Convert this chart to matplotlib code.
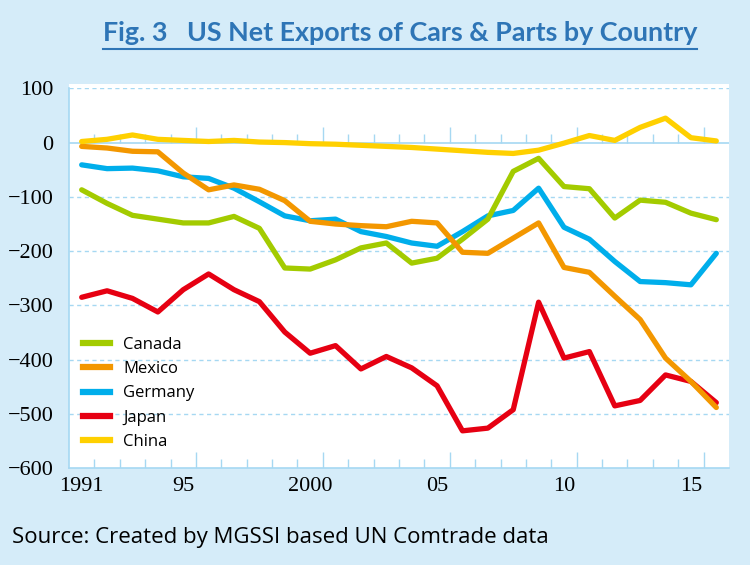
import matplotlib
matplotlib.use("Agg")
import matplotlib.pyplot as plt
from matplotlib.lines import Line2D
from matplotlib.patches import Rectangle
import numpy as np

years = list(range(1991, 2017))
canada = [-87, -112, -134, -141, -148, -148, -136, -158, -231, -233, -216, -194, -185,
          -222, -213, -178, -141, -53, -29, -81, -85, -139, -106, -110, -130, -142]
mexico = [-7, -10, -16, -17, -56, -87, -78, -86, -107, -145, -150, -153, -155,
          -145, -148, -202, -204, -176, -148, -230, -239, -283, -326, -397, -440, -488]
germany = [-41, -48, -47, -52, -63, -66, -84, -109, -135, -144, -141, -164, -173,
           -185, -191, -164, -135, -125, -84, -156, -178, -219, -256, -258, -262, -204]
japan = [-285, -273, -287, -312, -271, -242, -271, -293, -349, -388, -374, -417, -394,
         -415, -448, -531, -526, -492, -294, -397, -385, -485, -475, -428, -440, -479]
china = [2, 6, 14, 6, 4, 2, 4, 1, 0, -2, -3, -5, -7,
         -9, -12, -15, -18, -20, -14, -1, 13, 4, 28, 45, 9, 3]

series_names = ["Canada", "Mexico", "Germany", "Japan", "China"]
series_vals = [canada, mexico, germany, japan, china]
colors = ["#A3CB00", "#F39700", "#00AEEB", "#E60012", "#FFD000"]
zorders = [4, 5, 3, 2, 6]

xtick_labels = ["1991", "95", "2000", "05", "10", "15"]
xtick_years = [1991, 1995, 2000, 2005, 2010, 2015]
yticks = [100, 0, -100, -200, -300, -400, -500, -600]

title = "Fig. 3   US Net Exports of Cars & Parts by Country"
source = "Source: Created by MGSSI based UN Comtrade data"

BG = "#D5ECF9"
GRID = "#A6D8F2"

W, H = 750, 565
fig = plt.figure(figsize=(7.5, 5.65), dpi=100, facecolor=BG)

def fx(px):
    return px / W

def fy(py):
    return 1 - py / H

# white plot area
fig.add_artist(Rectangle((fx(69), fy(468)), fx(729) - fx(69), fy(84) - fy(468),
                         transform=fig.transFigure, facecolor="white", edgecolor="none", zorder=0))

ax = fig.add_axes([fx(69), fy(468.3), fx(729) - fx(69), fy(88.3) - fy(468.3)])
ax.set_facecolor("none")
ax.set_xlim(1990.5, 2016.5)
ax.set_ylim(-600, 100)

for y in [100, -100, -200, -300, -400, -500]:
    ax.axhline(y, color=GRID, lw=1.0, ls=(0, (3, 2.5)), zorder=1)
ax.axhline(0, color=GRID, lw=1.2, zorder=1)

# tick marks on zero line and bottom (category boundaries)
bounds = np.arange(1991.5, 2016.5, 1.0)
for b in bounds:
    major = abs((b - 1990.5) % 5) < 1e-6
    L = 16 if major else 9
    for base in [0, -600]:
        y0 = base
        y1 = base + L / (379.8 / 700)
        ax.plot([b, b], [y0, y1], color=GRID, lw=1.0, zorder=1, solid_capstyle="butt")

for name, vals, c, z in zip(series_names, series_vals, colors, zorders):
    ax.plot(years, vals, color=c, lw=3.8, zorder=z, solid_capstyle="round",
            solid_joinstyle="round", label=name)

for s in ["top", "right"]:
    ax.spines[s].set_visible(False)
for s in ["left", "bottom"]:
    ax.spines[s].set_color(GRID)
    ax.spines[s].set_linewidth(1.2)

ax.set_xticks(xtick_years)
ax.set_xticklabels(xtick_labels)
ax.set_yticks(yticks)
ax.set_yticklabels([f"{v}".replace("-", "\u2212") for v in yticks])
ax.tick_params(axis="both", length=0, colors="black")
ax.tick_params(axis="x", pad=6)
ax.tick_params(axis="y", pad=11)
for lab in ax.get_xticklabels() + ax.get_yticklabels():
    lab.set_family("Liberation Serif")
    lab.set_fontsize(16)

handles = [Line2D([], [], color=c, lw=4.5) for c in colors]
ax_h = fy(88.3) - fy(468.3)
leg = ax.legend(handles, series_names, loc="upper left",
                bbox_to_anchor=((fx(83) - fx(69)) / (fx(729) - fx(69)), (fy(337) - fy(468.3)) / ax_h),
                bbox_transform=ax.transAxes, frameon=False, handlelength=1.6, handletextpad=0.8,
                labelspacing=0.49, prop={"family": "Open Sans", "size": 12}, borderaxespad=0,
                borderpad=0)
leg.set_zorder(10)

t = fig.text(fx(400), fy(33), title, ha="center", va="center", color="#2E75B6",
             family="Lato", weight="bold", fontsize=20)
s = fig.text(fx(12), fy(537), source, ha="left", va="center", color="black",
             family="Open Sans", fontsize=14)

fig.canvas.draw()
r = fig.canvas.get_renderer()
bb = t.get_window_extent(r)
t.set_fontsize(20 * 595 / bb.width)
bb2 = s.get_window_extent(r)
s.set_fontsize(14 * 541 / bb2.width)
fig.canvas.draw()
bb = t.get_window_extent(r)
fig.add_artist(Line2D([bb.x0 / W, bb.x1 / W], [fy(48.5), fy(48.5)], color="#2E75B6", lw=1.5,
                      transform=fig.transFigure))

fig.savefig("out.png", dpi=100, facecolor=BG)
